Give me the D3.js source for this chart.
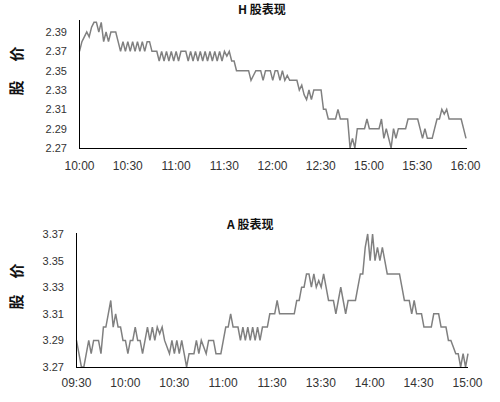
<html>
<head>
<meta charset="utf-8">
<script src="https://d3js.org/d3.v7.min.js"></script>
<style>
  body { margin: 0; background: #fff; }
  text { font-family: "Liberation Sans", Arial, sans-serif; }
  .cjk { font-family: "Noto Sans CJK SC", sans-serif; font-weight: bold; }
</style>
</head>
<body>
<svg id="chart"></svg>
<script>
// H share
var hLabels = ["10:00","10:30","11:00","11:30","12:00","12:30","15:00","15:30","16:00"];
var hTicks = [2.27, 2.29, 2.31, 2.33, 2.35, 2.37, 2.39];
var hPrices = [
  2.37,2.38,2.385,2.39,2.385,2.395,2.40,2.40,2.39,2.40,
  2.38,2.39,2.38,2.39,2.39,2.39,2.38,2.37,2.38,2.37,
  2.38,2.37,2.38,2.37,2.38,2.37,2.38,2.37,2.38,2.38,
  2.37,2.37,2.37,2.36,2.37,2.36,2.37,2.36,2.37,2.36,
  2.37,2.36,2.37,2.37,2.37,2.36,2.37,2.36,2.37,2.36,
  2.37,2.36,2.37,2.36,2.37,2.36,2.37,2.36,2.37,2.36,
  2.37,2.365,2.37,2.36,2.36,2.35,2.35,2.35,2.35,2.35,
  2.35,2.34,2.345,2.35,2.35,2.35,2.34,2.35,2.35,2.35,
  2.34,2.35,2.35,2.34,2.35,2.34,2.345,2.34,2.34,2.34,
  2.34,2.33,2.335,2.325,2.32,2.33,2.32,2.33,2.33,2.33,
  2.33,2.31,2.31,2.30,2.30,2.30,2.30,2.31,2.30,2.30,
  2.30,2.30,2.27,2.28,2.27,2.29,2.29,2.29,2.29,2.30,
  2.29,2.29,2.29,2.29,2.29,2.30,2.28,2.29,2.28,2.27,
  2.29,2.28,2.29,2.29,2.29,2.29,2.30,2.30,2.30,2.30,
  2.30,2.29,2.28,2.29,2.28,2.28,2.28,2.29,2.30,2.30,
  2.31,2.305,2.31,2.30,2.30,2.30,2.30,2.30,2.30,2.29,
  2.28
];

// A share
var aLabels = ["09:30","10:00","10:30","11:00","11:30","13:30","14:00","14:30","15:00"];
var aTicks = [3.27, 3.29, 3.31, 3.33, 3.35, 3.37];
var aPrices = [
  3.29,3.28,3.27,3.27,3.28,3.29,3.28,3.29,3.29,3.29,
  3.28,3.30,3.30,3.31,3.32,3.30,3.31,3.30,3.30,3.29,
  3.29,3.28,3.29,3.29,3.30,3.29,3.29,3.28,3.29,3.30,
  3.29,3.30,3.29,3.30,3.295,3.30,3.29,3.285,3.28,3.29,
  3.28,3.29,3.28,3.29,3.28,3.27,3.28,3.28,3.28,3.29,
  3.28,3.29,3.285,3.28,3.29,3.29,3.29,3.28,3.28,3.28,
  3.29,3.30,3.30,3.31,3.30,3.30,3.30,3.29,3.30,3.29,
  3.30,3.29,3.30,3.29,3.30,3.29,3.30,3.30,3.30,3.31,
  3.31,3.31,3.32,3.31,3.31,3.31,3.31,3.31,3.31,3.31,
  3.32,3.32,3.33,3.33,3.34,3.34,3.33,3.34,3.33,3.335,
  3.33,3.34,3.33,3.32,3.32,3.32,3.31,3.32,3.33,3.32,
  3.31,3.32,3.32,3.32,3.32,3.33,3.34,3.34,3.36,3.37,
  3.35,3.37,3.35,3.36,3.35,3.36,3.35,3.34,3.34,3.34,
  3.34,3.34,3.34,3.33,3.32,3.32,3.32,3.31,3.32,3.31,
  3.31,3.31,3.30,3.30,3.30,3.30,3.31,3.31,3.31,3.30,
  3.30,3.30,3.29,3.29,3.285,3.28,3.28,3.27,3.28,3.27,
  3.28
];

var svg = d3.select("#chart").attr("width", 500).attr("height", 402);

drawChart({
  title: "H 股表现", titleX: 238, titleY: 14,
  labels: hLabels, ticks: hTicks, prices: hPrices,
  x0: 79, x1: 465, axisEnd: 467,
  yLo: 148, yHi: 32, axisTop: 20,
  labelY: 170, yTitleX: 16, yTitleA: 88, yTitleB: 54
});

drawChart({
  title: "A 股表现", titleX: 227, titleY: 229,
  labels: aLabels, ticks: aTicks, prices: aPrices,
  x0: 76, x1: 467, axisEnd: 468,
  yLo: 367, yHi: 234, axisTop: 233,
  labelY: 387, yTitleX: 16, yTitleA: 302, yTitleB: 271
});

function drawChart(o) {
  var g = svg.append("g");
  var tLo = o.ticks[0], tHi = o.ticks[o.ticks.length - 1];
  var y = d3.scaleLinear().domain([tLo, tHi]).range([o.yLo, o.yHi]);
  var xi = d3.scaleLinear().domain([0, o.prices.length - 1]).range([o.x0 + 0.5, o.x1 + 1]);
  var xl = d3.scalePoint().domain(o.labels).range([o.x0, o.x1]);

  // y tick labels
  var ya = d3.axisLeft(y).tickValues(o.ticks).tickSize(0).tickPadding(13)
    .tickFormat(d3.format(".2f"));
  var yg = g.append("g").attr("transform", "translate(" + (o.x0 + 1) + ",0)").call(ya);
  yg.select(".domain").remove();
  yg.selectAll("text").attr("font-size", 11).attr("fill", "#333")
    .attr("font-family", "Liberation Sans, Arial, sans-serif");

  // x tick labels
  var xa = d3.axisBottom(xl).tickSize(0).tickPadding(0);
  var xg = g.append("g").attr("transform", "translate(0," + (o.labelY - 9) + ")").call(xa);
  xg.select(".domain").remove();
  xg.selectAll("text").attr("font-size", 12).attr("fill", "#333")
    .attr("font-family", "Liberation Sans, Arial, sans-serif");

  // price line
  var line = d3.line().x(function(d, i) { return xi(i); }).y(function(d) { return y(d); });
  g.append("path").datum(o.prices)
    .attr("d", line)
    .attr("fill", "none")
    .attr("stroke", "#808080")
    .attr("stroke-width", 1.5)
    .attr("stroke-linejoin", "miter");

  // axis lines
  g.append("line").attr("x1", o.x0 + 0.5).attr("x2", o.x0 + 0.5)
    .attr("y1", o.axisTop).attr("y2", o.yLo + 0.5)
    .attr("stroke", "#000").attr("stroke-width", 1);
  g.append("line").attr("x1", o.x0).attr("x2", o.axisEnd)
    .attr("y1", o.yLo + 0.5).attr("y2", o.yLo + 0.5)
    .attr("stroke", "#000").attr("stroke-width", 1);

  // title
  g.append("text").attr("class", "cjk")
    .attr("x", o.titleX).attr("y", o.titleY)
    .attr("font-size", 12).attr("fill", "#111")
    .text(o.title);

  // y title, two characters set apart
  [["股", o.yTitleA], ["价", o.yTitleB]].forEach(function(c) {
    g.append("text").attr("class", "cjk")
      .attr("transform", "translate(" + o.yTitleX + "," + c[1] + ") rotate(-90)")
      .attr("text-anchor", "middle").attr("dy", "0.38em")
      .attr("font-size", 15).attr("fill", "#111")
      .text(c[0]);
  });
}
</script>
</body>
</html>
